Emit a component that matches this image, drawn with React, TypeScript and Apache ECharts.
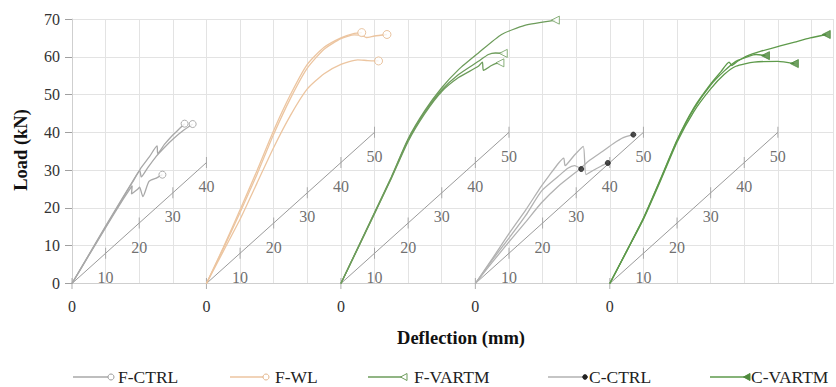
import React, { useEffect, useRef } from 'react';
import * as echarts from 'echarts';

// ---------- DATA ----------
// panel origins on the shared horizontal scale (10 units per gridline)
const panelOffsets = [0, 40, 80, 120, 160];
const specimenNames = ['F-CTRL', 'F-WL', 'F-VARTM', 'C-CTRL', 'C-VARTM'];

// diagonal deflection scales (mm) for each panel
const diagTicksShort = [0, 10, 20, 30, 40];
const diagTicksLong = [0, 10, 20, 30, 40, 50];
const diagRise = 0.8; // kN per mm of the oblique deflection axis

// load-deflection curves [deflection (mm), load (kN)]
const fCtrl1 = [[0,0],[5,7.6],[10,15.2],[15,22.6],[18,27],[20.3,30.3],[23,33.5],[25.3,36.4],[25.5,34.4],[27.5,36.8],[30,39.3],[32,41],[33.5,42.3]];
const fCtrl2 = [[0,0],[5,7.5],[10,15],[15,22.4],[18,26.8],[20.2,29.8],[20.6,28.2],[22.5,30.6],[25,33.6],[27.5,36],[30,38.2],[33,40.4],[35.9,42.2]];
const fCtrl3 = [[0,0],[5,7.4],[10,14.8],[15,22],[17.9,25.9],[17.7,23.7],[19.6,25],[20.1,25.5],[21.1,23],[22.9,27],[25.1,27.9],[26.9,28.8]];

const fWl1 = [[0,0],[5,9.5],[10,19.5],[15,29.8],[20,40.5],[25,50],[30,58],[35,62.5],[40,65],[44,66.2],[46.2,66.4]];
const fWl2 = [[0,0],[5,9.2],[10,18.8],[15,28.8],[20,39.5],[25,49],[30,57],[35,62],[40,64.8],[44,65.8],[46.5,65.6],[47.5,65.1],[50,65.5],[53.7,65.9]];
const fWl3 = [[0,0],[5,8.5],[10,17],[15,26.5],[20,36],[25,44.5],[30,51.5],[35,55.5],[40,58],[45,59.2],[48,59],[51.2,58.9]];

const fVa1 = [[0,0],[5,9.4],[10,18.8],[15,28.2],[20,38.3],[25,45.8],[30,51.8],[35,56.6],[40.9,61],[47.8,65.9],[54.7,68.3],[63.8,69.7]];
const fVa2 = [[0,0],[5,9.3],[10,18.6],[15,28],[20,38],[25,45.4],[30,51.2],[35,55.3],[40.9,58.8],[43.9,60.6],[46,61],[48.3,60.9]];
const fVa3 = [[0,0],[5,9.2],[10,18.5],[15,27.8],[20,37.6],[25,45],[30,50.8],[35,54.5],[40.9,57.5],[42.1,58.6],[42.4,56.4],[44.8,57.7],[46,58.2],[47.3,58.4]];

const cCtrl1 = [[0,0],[5,6.5],[10,13.2],[15,19.5],[19.6,25.7],[22,28.6],[24.6,31.7],[26.3,33.2],[26.7,31.2],[29.5,34],[32.1,36.3],[32.9,28.8],[35,29.9],[37.5,31.1],[39.4,31.9]];
const cCtrl2 = [[0,0],[5,5.6],[10,11],[15,16.3],[19.6,21.3],[24.6,25.7],[30.8,30.1],[34,32.6],[37.9,35],[41,37],[44,38.6],[47,39.4]];
const cCtrl3 = [[0,0],[5,6.2],[10,12],[15,18],[19.6,24.4],[24.6,28.3],[27.5,30.5],[29.5,31.2],[31.5,30.3]];

const cVa1 = [[0,0],[5,8.6],[10,17.3],[15,27.5],[20,38],[25,46.5],[30,52.8],[33,56],[35.5,58.6],[36.3,57.7],[38,58.8],[40.7,60.2],[45,61.5],[50.4,62.8],[55,63.9],[59.6,65],[64.4,65.9]];
const cVa2 = [[0,0],[5,8.5],[10,17.2],[15,27.3],[20,37.8],[25,46.2],[30,52.5],[34,56.2],[37.5,58.8],[41.5,60.2],[43.5,60.6],[46.3,60.3]];
const cVa3 = [[0,0],[5,8.5],[10,17],[15,27],[20,37.4],[25,45.5],[30,51.5],[34,55.3],[37.5,57.5],[42.9,58.6],[50,58.8],[54.9,58.2]];

const yTicks = [0, 10, 20, 30, 40, 50, 60, 70];

// ---------- STYLE ----------
const SERIF = '"Liberation Serif", "Times New Roman", serif';
const COL = {
  fctrl: '#a8a8a8',
  fwl: '#ecc5a0',
  fvartm: '#6d9c5b',
  cctrl: '#b2b2b2',
  cvartm: '#5e9a4b',
  axis: '#9a9a9a',
  grid: '#e3e3e3',
};

type Marker = { symbol: string; size: number; rotate: number; fill: string; stroke: string };
const markers: Record<string, Marker> = {
  'F-CTRL': { symbol: 'circle', size: 7, rotate: 0, fill: '#ffffff', stroke: '#9a9a9a' },
  'F-WL': { symbol: 'circle', size: 8, rotate: 0, fill: '#ffffff', stroke: '#e3b58a' },
  'F-VARTM': { symbol: 'triangle', size: 8, rotate: 90, fill: '#ffffff', stroke: '#6d9c5b' },
  'C-CTRL': { symbol: 'circle', size: 5, rotate: 0, fill: '#222222', stroke: '#222222' },
  'C-VARTM': { symbol: 'triangle', size: 8, rotate: 90, fill: '#4e8a3c', stroke: '#4e8a3c' },
};

const groups = [
  { name: 'F-CTRL', color: COL.fctrl, curves: [fCtrl1, fCtrl2, fCtrl3], offset: panelOffsets[0], ticks: diagTicksShort },
  { name: 'F-WL', color: COL.fwl, curves: [fWl1, fWl2, fWl3], offset: panelOffsets[1], ticks: diagTicksLong },
  { name: 'F-VARTM', color: COL.fvartm, curves: [fVa1, fVa2, fVa3], offset: panelOffsets[2], ticks: diagTicksLong },
  { name: 'C-CTRL', color: COL.cctrl, curves: [cCtrl1, cCtrl2, cCtrl3], offset: panelOffsets[3], ticks: diagTicksLong },
  { name: 'C-VARTM', color: COL.cvartm, curves: [cVa1, cVa2, cVa3], offset: panelOffsets[4], ticks: diagTicksLong },
];

function buildSeries() {
  const series: any[] = [];
  // oblique deflection axes
  groups.forEach((g) => {
    const pts = g.ticks.map((d) => [g.offset + d, d * diagRise]);
    series.push({
      type: 'line', data: pts, showSymbol: false, silent: true, z: 2,
      lineStyle: { color: COL.axis, width: 1 },
    });
    series.push({
      type: 'scatter', data: pts, symbol: 'rect', symbolSize: [1, 11], silent: true, z: 2,
      itemStyle: { color: COL.axis },
    });
    series.push({
      type: 'scatter', silent: true, z: 2, symbolSize: 0,
      data: g.ticks.filter((d) => d > 0).map((d) => ({ value: [g.offset + d, d * diagRise], label: { formatter: String(d) } })),
      label: {
        show: true, position: 'inside', offset: [0, 24],
        fontFamily: SERIF, fontSize: 16, color: '#4a4a4a',
      },
    });
  });
  // load-deflection curves
  groups.forEach((g) => {
    const m = markers[g.name];
    g.curves.forEach((c) => {
      series.push({
        type: 'line', name: g.name, showSymbol: false, smooth: 0.2, silent: true, z: 5,
        data: c.map((p) => [g.offset + p[0], p[1]]),
        lineStyle: { color: g.color, width: 1.3 },
      });
      const last = c[c.length - 1];
      series.push({
        type: 'scatter', name: g.name, silent: true, z: 6,
        data: [[g.offset + last[0], last[1]]],
        symbol: m.symbol, symbolSize: m.size, symbolRotate: m.rotate,
        itemStyle: { color: m.fill, borderColor: m.stroke, borderWidth: 1 },
      });
    });
  });
  return series;
}

function legendGraphics() {
  const y = 377;
  const items = [
    { name: specimenNames[0], x0: 73, x1: 108, tx: 118, color: COL.fctrl },
    { name: specimenNames[1], x0: 230, x1: 263, tx: 275, color: COL.fwl },
    { name: specimenNames[2], x0: 368, x1: 401, tx: 414, color: COL.fvartm },
    { name: specimenNames[3], x0: 548, x1: 582, tx: 589, color: COL.cctrl },
    { name: specimenNames[4], x0: 710, x1: 744, tx: 751, color: COL.cvartm },
  ];
  const els: any[] = [];
  items.forEach((it) => {
    const m = markers[it.name];
    els.push({ type: 'line', shape: { x1: it.x0, y1: y, x2: it.x1, y2: y }, style: { stroke: it.color, lineWidth: 1.3 } });
    const mx = it.x1 + 3;
    if (m.symbol === 'circle') {
      els.push({ type: 'circle', shape: { cx: mx, cy: y, r: it.name === 'C-CTRL' ? 2.3 : 3 }, style: { fill: m.fill, stroke: m.stroke, lineWidth: 1 } });
    } else {
      els.push({ type: 'polygon', shape: { points: [[mx - 3.5, y], [mx + 3, y - 3.5], [mx + 3, y + 3.5]] }, style: { fill: m.fill, stroke: m.stroke, lineWidth: 1 } });
    }
    els.push({ type: 'text', x: it.tx, y: y, style: { text: it.name, font: `17.5px ${SERIF}`, fill: '#222', textAlign: 'left', textVerticalAlign: 'middle' } });
  });
  return els;
}

export default function App() {
  const ref = useRef<HTMLDivElement>(null);
  useEffect(() => {
    if (!ref.current) return;
    const chart = echarts.init(ref.current, undefined, { renderer: 'svg' });
    chart.setOption({
      animation: false,
      backgroundColor: '#ffffff',
      textStyle: { fontFamily: SERIF },
      grid: { left: 72, right: 0, top: 19, bottom: 103.5, containLabel: false },
      xAxis: {
        type: 'value', min: 0, max: 226.4, interval: 10,
        axisLine: { show: true, lineStyle: { color: '#cfcfcf' } },
        axisTick: { show: false },
        splitLine: { show: true, lineStyle: { color: COL.grid, width: 1 } },
        axisLabel: {
          margin: 15, fontFamily: SERIF, fontSize: 16, color: '#333',
          formatter: (v: number) => (panelOffsets.indexOf(Math.round(v)) >= 0 && Math.abs(v - Math.round(v)) < 1e-6 ? '0' : ''),
        },
      },
      yAxis: {
        type: 'value', min: yTicks[0], max: yTicks[yTicks.length - 1], interval: 10,
        axisLine: { show: true, lineStyle: { color: '#cfcfcf' } },
        axisTick: { show: true, length: 7, lineStyle: { color: '#a0a0a0' } },
        splitLine: { show: true, lineStyle: { color: COL.grid, width: 1 } },
        axisLabel: { margin: 12, fontFamily: SERIF, fontSize: 16, color: '#333' },
      },
      graphic: [
        { type: 'text', x: 21, y: 150, rotation: Math.PI / 2, style: { text: 'Load (kN)', font: `bold 18.5px ${SERIF}`, fill: '#111', textAlign: 'center', textVerticalAlign: 'middle' } },
        { type: 'text', x: 461, y: 338, style: { text: 'Deflection (mm)', font: `bold 18.5px ${SERIF}`, fill: '#111', textAlign: 'center', textVerticalAlign: 'middle' } },
        ...legendGraphics(),
      ],
      series: buildSeries(),
    });
    return () => chart.dispose();
  }, []);
  return <div ref={ref} style={{ position: 'fixed', left: 0, top: 0, width: 836, height: 387 }} />;
}
